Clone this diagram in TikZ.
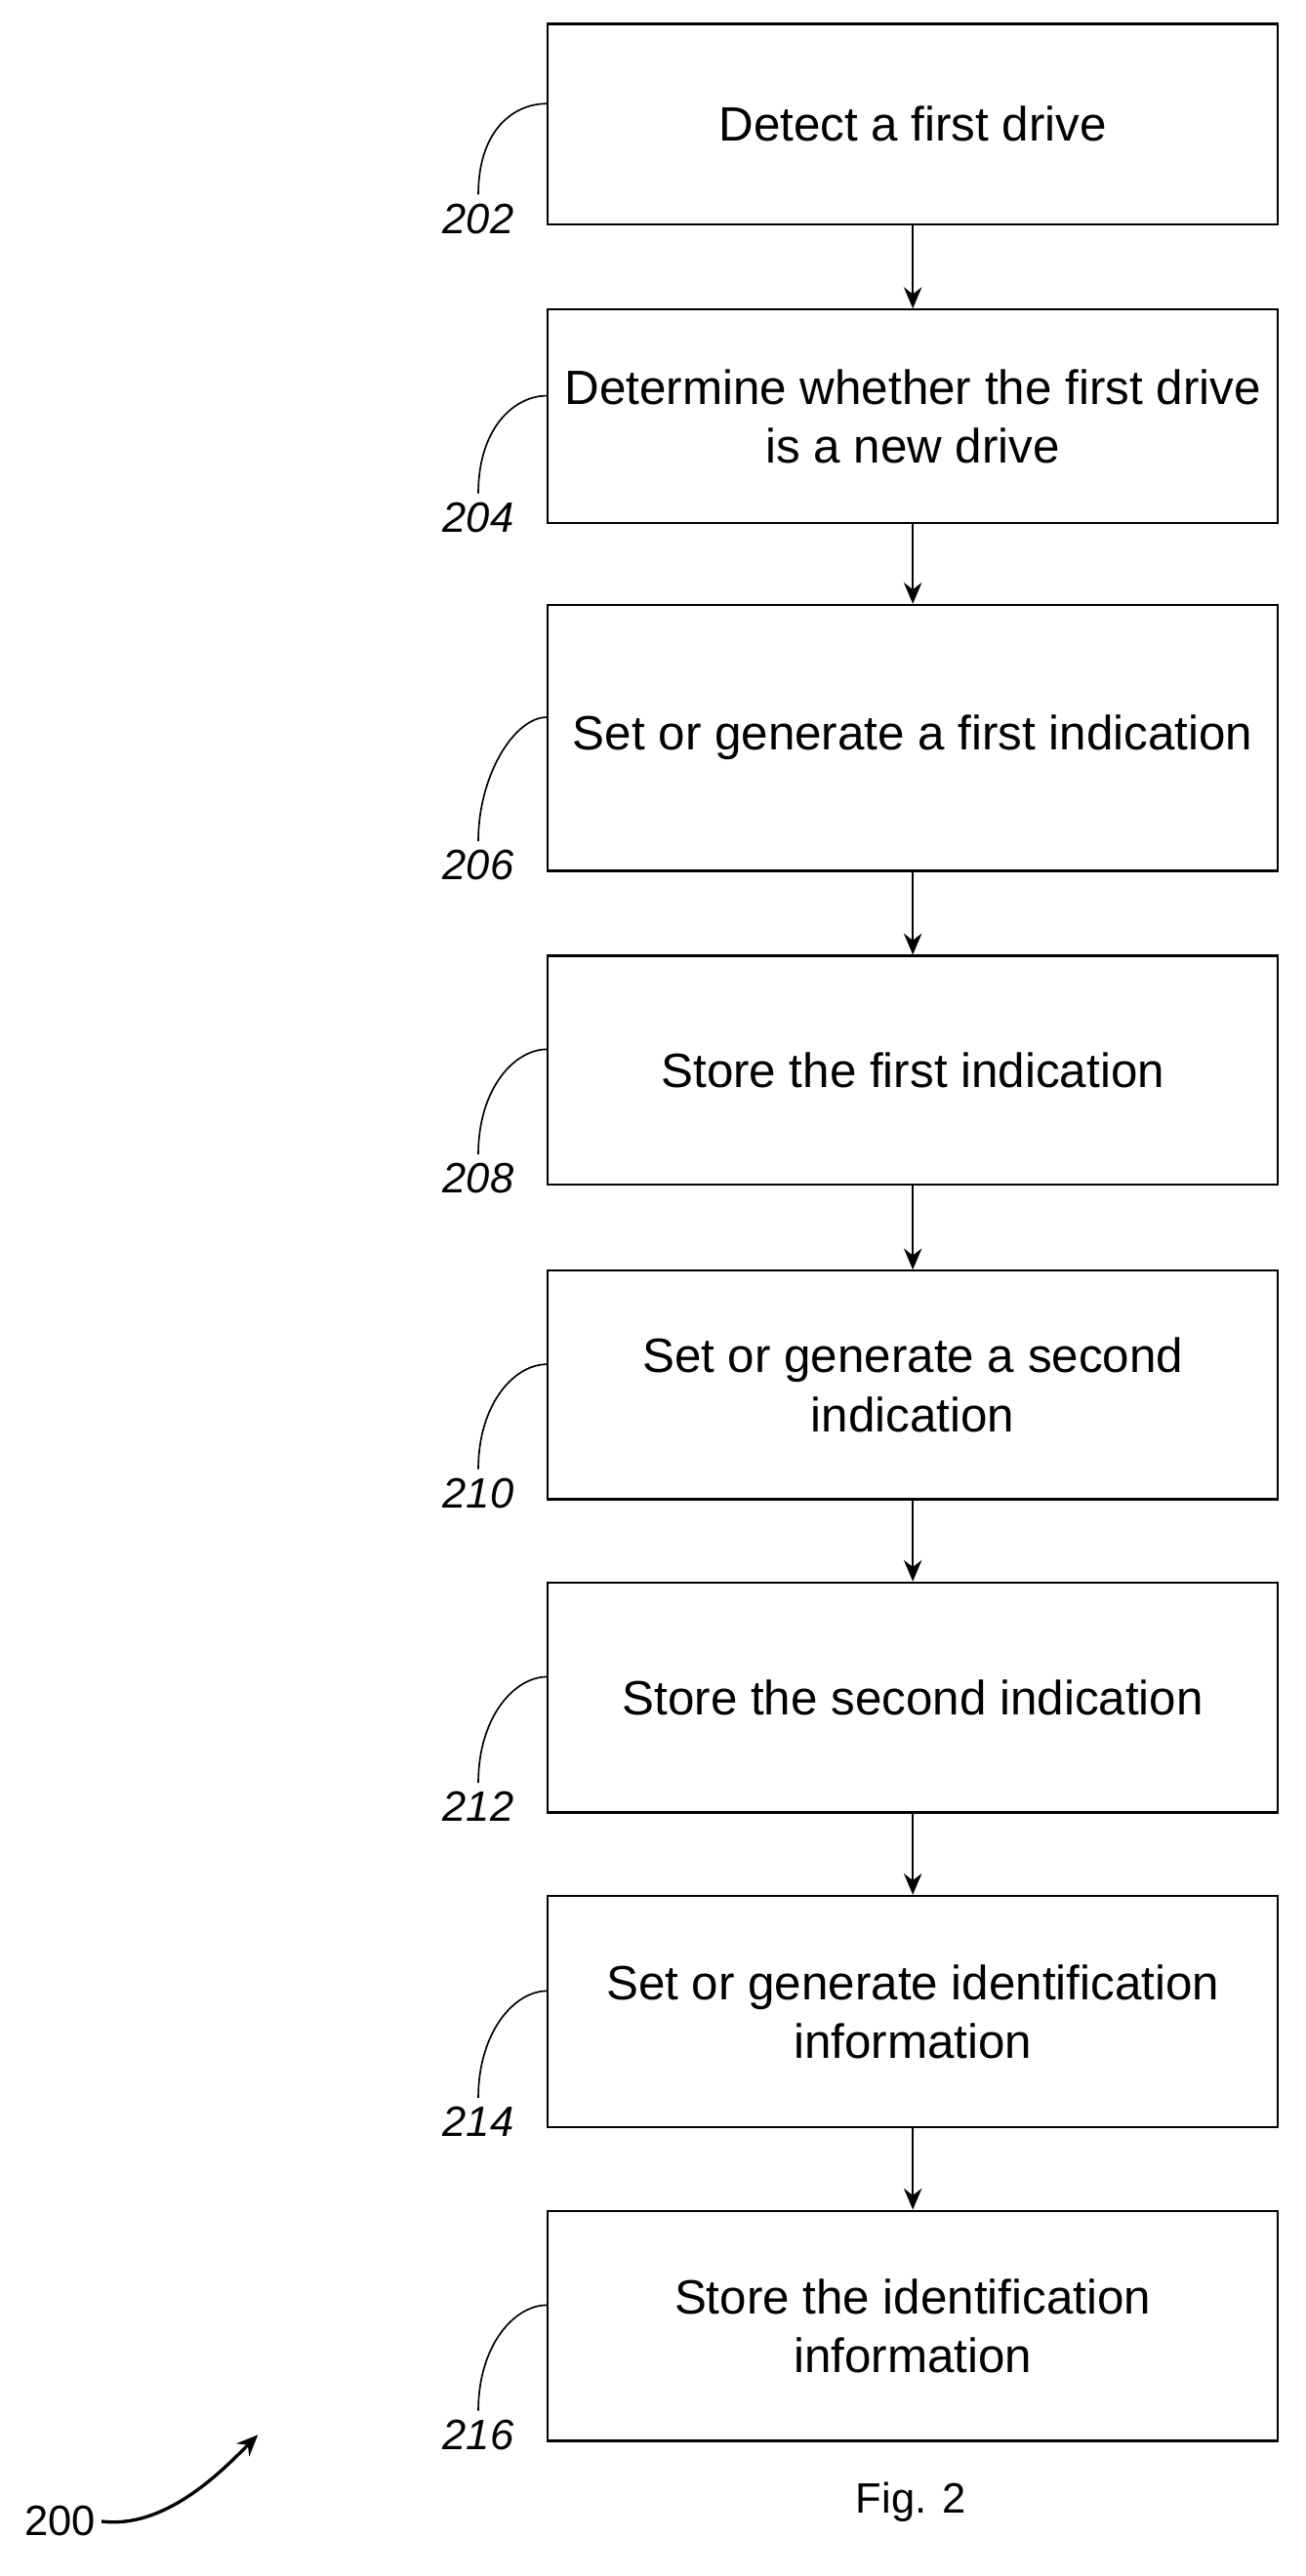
\documentclass[tikz,border=0pt]{standalone}
\usepackage{fontspec}
\setmainfont{Liberation Sans}
\usetikzlibrary{arrows.meta}
\begin{document}
\begin{tikzpicture}[x=1pt,y=-1pt,
 box/.style={draw,line width=1.3pt,minimum width=447pt,anchor=north west,align=center,font=\fontsize{29.5}{36}\selectfont,inner sep=0pt},
 lab/.style={font=\itshape\fontsize{26}{30}\selectfont},
 arr/.style={-{Stealth[length=13pt,width=11pt]},line width=1.3pt}]
\useasboundingbox (0,0) rectangle (800,1578.5);
\def\B#1#2#3#4#5{\node[box,minimum height=#3pt] (b#1) at (335,#2) {#4};
 \node[lab] (l#1) at (293,#2+#3-3) {#5};
 \draw[line width=1pt] (l#1.north)+(0,-2) .. controls +(0,-40) and +(-20,0) .. (335,#2+#3*0.5-12);}
\B{1}{14}{123}{Detect a first drive}{202}
\B{2}{189}{131}{Determine whether the first drive\\is a new drive}{204}
\B{3}{370}{163}{Set or generate a first indication}{206}
\B{4}{585}{140}{Store the first indication}{208}
\B{5}{778}{140}{Set or generate a second\\indication}{210}
\B{6}{969}{141}{Store the second indication}{212}
\B{7}{1161}{142}{Set or generate identification\\information}{214}
\B{8}{1354}{141}{Store the identification\\information}{216}
\foreach \i [evaluate=\i as \j using int(\i+1)] in {1,...,7}
  \draw[arr] (b\i.south) -- (b\j.north);
\node[font=\fontsize{26}{30}\selectfont] (fig) at (558,1533) {Fig. 2};
\node[font=\fontsize{26}{30}\selectfont] (n200) at (37,1545) {200};
\coordinate (a200) at (158,1492);
\draw[arr,line width=2pt] (n200.east) .. controls +(40,5) and +(-20,20) .. (a200);
\end{tikzpicture}
\end{document}
